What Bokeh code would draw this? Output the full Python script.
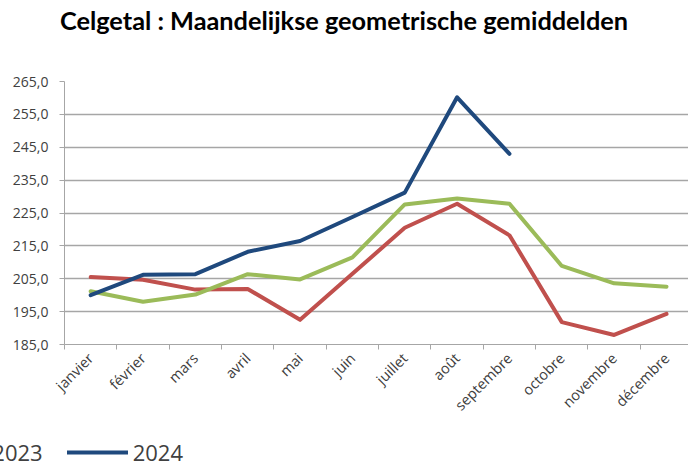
import math
from bokeh.plotting import figure
from bokeh.models import Range1d, FixedTicker, Legend, LegendItem, Div
from bokeh.layouts import column
from bokeh.embed import file_html
from bokeh.resources import INLINE

months = ["janvier", "février", "mars", "avril", "mai", "juin", "juillet",
          "août", "septembre", "octobre", "novembre", "décembre"]
vals_2022 = [205.5, 204.7, 201.7, 201.9, 192.5, 206.5, 220.5, 227.8, 218.2, 191.8, 187.9, 194.3]
vals_2023 = [201.2, 198.0, 200.2, 206.4, 204.8, 211.5, 227.6, 229.4, 227.8, 208.9, 203.6, 202.6]
vals_2024 = [200.0, 206.2, 206.4, 213.2, 216.5, 223.8, 231.2, 260.2, 243.0]
yticks = [185, 195, 205, 215, 225, 235, 245, 255, 265]
series_labels = ["2022", "2023", "2024"]
series_colors = ["#C0504D", "#9BBB59", "#1F497D"]
title_text = "Celgetal : Maandelijkse geometrische gemiddelden"

GRID = "#A6A6A6"
TXT = "#404040"
W = 688
TITLE_H = 44
LEG_H = 30
MAIN_H = 466 - TITLE_H - LEG_H

xs = list(range(len(months)))
bounds = [i - 0.5 for i in range(len(months) + 1)]
series = [vals_2022, vals_2023, vals_2024]

title = Div(text=title_text, width=W, height=TITLE_H, margin=0,
            styles={"font-family": "Lato", "font-weight": "bold", "font-size": "25.3px",
                    "text-align": "center", "color": "black", "line-height": "40px",
                    "width": f"{W}px"})

p = figure(width=W, height=MAIN_H, output_backend="svg", toolbar_location=None,
           x_range=Range1d(-0.5, 11.42), y_range=Range1d(yticks[0], yticks[-1]),
           min_border_left=64, min_border_right=0, min_border_top=81 - TITLE_H,
           min_border_bottom=TITLE_H + MAIN_H - 344, title=None)
p.outline_line_color = None
p.background_fill_color = "white"
p.border_fill_color = "white"

for vals, col in zip(series, series_colors):
    p.line(xs[:len(vals)], vals, line_color=col, line_width=4,
           line_join="round", line_cap="round")

# y axis
p.yaxis.ticker = FixedTicker(ticks=yticks)
p.yaxis.major_label_overrides = {v: f"{v},0" for v in yticks}
p.yaxis.major_tick_out = 5
p.yaxis.major_tick_in = 0
p.yaxis.minor_tick_line_color = None
p.yaxis.axis_line_color = GRID
p.yaxis.major_tick_line_color = GRID
p.yaxis.major_label_standoff = 11
p.yaxis.major_label_text_font = "Open Sans"
p.yaxis.major_label_text_font_size = "14px"
p.yaxis.major_label_text_color = TXT

# x axis
p.xaxis.ticker = FixedTicker(ticks=xs, minor_ticks=bounds)
p.xaxis.major_label_overrides = {i: m for i, m in zip(xs, months)}
p.xaxis.major_tick_line_color = None
p.xaxis.minor_tick_line_color = GRID
p.xaxis.minor_tick_out = 5
p.xaxis.minor_tick_in = 0
p.xaxis.axis_line_color = GRID
p.xaxis.major_label_orientation = math.pi / 4
p.xaxis.major_label_standoff = 5
p.xaxis.major_label_text_font = "Open Sans"
p.xaxis.major_label_text_font_size = "14.5px"
p.xaxis.major_label_text_color = TXT

p.xgrid.grid_line_color = None
p.ygrid.ticker = FixedTicker(ticks=yticks)
p.ygrid.grid_line_color = GRID
p.ygrid.grid_line_width = 1.5

# legend strip (cut off at the left edge, as in the reference)
lg = figure(width=W, height=LEG_H, output_backend="svg", toolbar_location=None,
            x_range=Range1d(100, 101), y_range=Range1d(0, 1), min_border=0,
            x_axis_location=None, y_axis_location=None, title=None)
lg.outline_line_color = None
lg.grid.visible = False
lg.background_fill_color = "white"
lg.border_fill_color = "white"
for fig in (p, lg):
    if "frame_align" in fig.properties():
        fig.frame_align = False
items = []
for lab, col, vals in zip(series_labels, series_colors, series):
    # same series drawn outside this strip's visible range: only the legend glyph shows
    r = lg.line(xs[:len(vals)], vals, line_color=col, line_width=4, line_cap="round")
    items.append(LegendItem(label=lab, renderers=[r]))
legend = Legend(items=items, location=(-214, -1), orientation="horizontal",
                glyph_width=61, glyph_height=20, label_standoff=5, spacing=24,
                padding=0, margin=0, border_line_color=None, background_fill_alpha=0,
                label_text_font="Open Sans", label_text_font_size="22px",
                label_text_color=TXT, label_height=20, label_width=10)
lg.add_layout(legend)

open("out.html", "w").write(file_html(column(title, p, lg, spacing=0), INLINE))
